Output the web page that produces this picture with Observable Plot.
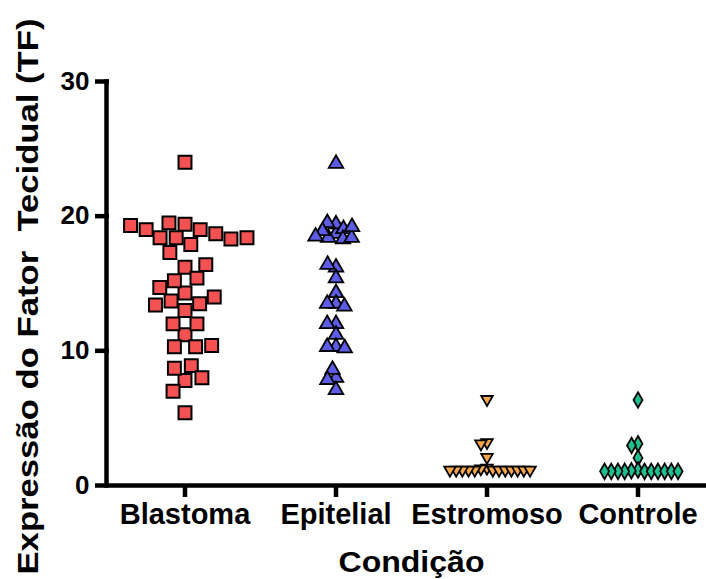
<!DOCTYPE html>
<html><head><meta charset="utf-8">
<script src="https://cdn.jsdelivr.net/npm/d3@7"></script>
<script src="https://cdn.jsdelivr.net/npm/@observablehq/plot@0.6"></script>
<style>body{margin:0;background:#fff;overflow:hidden}</style>
</head><body><div id="chart"></div>
<script>
const categories = ["Blastoma", "Epitelial", "Estromoso", "Controle"];
const blastoma = [24.0, 19.4, 18.4, 14.3, 11.2, 19.0, 18.4, 17.9, 16.2, 13.7, 13.0, 10.3, 7.8,
  18.7, 17.3, 15.2, 13.5, 12.0, 10.3, 8.7, 7.0, 5.4, 19.5, 19.0, 18.3, 15.4, 14.0, 12.0, 10.4,
  8.9, 8.0, 19.3, 18.4, 16.4, 14.7, 13.4];
const epitelial = [23.9, 18.7, 19.4, 18.4, 19.05, 18.3, 19.5, 18.9, 18.4, 19.2, 18.5, 16.2, 16.4,
  15.4, 14.3, 13.5, 13.5, 13.3, 12.0, 12.0, 11.2, 10.3, 10.3, 10.2, 8.0, 8.6, 7.85, 7.1];
const estromoso = [6.4, 3.2, 3.1, 2.1, 1.3, 1.25, 1.15, 1.15, 1.15, 1.15, 1.15, 1.15, 1.15,
  1.15, 1.15, 1.15, 1.15, 1.15];
const controle = [6.35, 3.1, 2.97, 2.05, 1.15, 1.1, 1.05, 1.05, 1.05, 1.05, 1.05, 1.05, 1.05,
  1.05, 1.05, 1.05];
const yTicks = [0, 10, 20, 30];
const yLabel = "Expressão do Fator\u00a0 Tecidual (TF)";
const xLabel = "Condição";
const fills = ["#f45252", "#5c5ce6", "#f8a84a", "#1fbf8f"];

const triangleDown = {
  draw(context, size) {
    const s = Math.sqrt(size) * 0.6824, t = s / 2, u = (s * Math.sqrt(3)) / 2;
    context.moveTo(0, s);
    context.lineTo(u, -t);
    context.lineTo(-u, -t);
    context.closePath();
  }
};

const rows = (cat, vals) => vals.map(v => ({cat, v}));
const dots = (cat, vals, symbol, fill, r, padding, sw) =>
  Plot.dot(rows(cat, vals), Plot.dodgeX({anchor: "middle", padding},
    {fx: "cat", y: "v", r, symbol, fill, stroke: "black", strokeWidth: sw}));

const font = "'Liberation Sans', Arial, sans-serif";
const chart = Plot.plot({
  width: 706, height: 579,
  marginLeft: 107, marginRight: -8, marginTop: 81, marginBottom: 94,
  style: {fontFamily: font, fontWeight: "bold", background: "white"},
  fx: {domain: categories, padding: 0},
  y: {domain: [0, 30]},
  marks: [
    Plot.ruleY([0], {strokeWidth: 4.5, stroke: "black"}),
    Plot.frame({anchor: "left", facetAnchor: "left", strokeWidth: 4.5, stroke: "black", dx: -3}),
    Plot.axisY({ticks: yTicks, tickSize: 14, tickPadding: 6, fontSize: 26, strokeWidth: 4.5,
      label: yLabel, labelAnchor: "center", labelArrow: "none", labelOffset: 92}),
    Plot.axisFx({anchor: "bottom", tickSize: 12, tickPadding: 6, fontSize: 29, strokeWidth: 4.5,
      label: xLabel, labelAnchor: "center", labelOffset: 86}),
    dots("Blastoma", blastoma, "square", fills[0], 7.3, 1.5, 2),
    dots("Epitelial", epitelial, "triangle", fills[1], 5.4, -2, 1.8),
    dots("Estromoso", estromoso, triangleDown, fills[2], 5.5, -4.8, 1.8),
    dots("Controle", controle, "diamond", fills[3], 4.7, -2.7, 1.8)
  ]
});
document.getElementById("chart").appendChild(chart);

// title typography (size and stretch to match the reference)
const svg = d3.select(chart);
svg.selectAll("g[aria-label='y-axis label'] text")
  .attr("font-size", 29).attr("x", -13)
  .attr("textLength", 556).attr("lengthAdjust", "spacingAndGlyphs");
svg.selectAll("g[aria-label='fx-axis label'] text")
  .attr("font-size", 29).attr("textLength", 146).attr("lengthAdjust", "spacingAndGlyphs");
</script>
</body></html>
